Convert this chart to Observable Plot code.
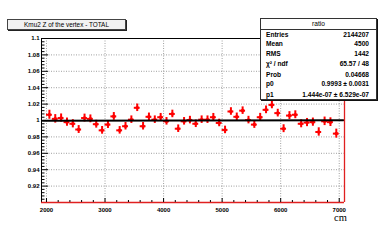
<!DOCTYPE html>
<html>
<head>
<meta charset="utf-8">
<script src="https://cdn.jsdelivr.net/npm/d3@7"></script>
<script src="https://cdn.jsdelivr.net/npm/@observablehq/plot@0.6"></script>
<style>
  body { margin: 0; background: #ffffff; }
  #wrap { position: relative; width: 382px; height: 248px; overflow: hidden; font-family: "Liberation Sans", Arial, sans-serif; }
  #wrap svg { position: absolute; left: 0; top: 0; }
  .title { position: absolute; left: 7px; top: 19px; width: 117px; height: 9px; background: #f2f2f2; border: 1px solid #444; box-shadow: 1px 1px 0 #222; font-size: 6.4px; line-height: 9px; text-align: center; color: #000; }
  .stats { position: absolute; left: 260px; top: 18px; width: 115px; height: 80px; background: #fff; border: 1px solid #333; box-shadow: 1px 1px 0 #111; color: #000; font-size: 6.6px; font-weight: bold; }
  .stats .hdr { position: absolute; left: 0; top: 0; width: 100%; height: 10px; line-height: 10px; text-align: center; font-weight: normal; border-bottom: 1px solid #333; }
  .stats .row { position: absolute; left: 5px; right: 7px; height: 8px; line-height: 8px; }
  .stats .row .l { position: absolute; left: 0; }
  .stats .row .v { position: absolute; right: 0; }
  .cm { position: absolute; left: 334px; top: 213px; font-family: "Liberation Serif", "DejaVu Serif", serif; font-size: 10.5px; line-height: 10.5px; color: #000; }
</style>
</head>
<body>
<div id="wrap"></div>
<script>
// ---- data ----
const binCenters = [2050,2150,2250,2350,2450,2550,2650,2750,2850,2950,
                    3050,3150,3250,3350,3450,3550,3650,3750,3850,3950,
                    4050,4150,4250,4350,4450,4550,4650,4750,4850,4950,
                    5050,5150,5250,5350,5450,5550,5650,5750,5850,5950,
                    6050,6150,6250,6350,6450,6550,6650,6750,6850,6950];
const ratioValues = [1.007,1.002,1.003,0.998,0.996,0.989,1.003,1.002,0.9955,0.988,
                     0.995,1.005,0.988,0.993,1.001,1.0155,0.993,1.0045,1.001,1.004,
                     0.999,1.008,0.990,0.999,1.0005,0.996,1.001,1.001,1.004,0.997,
                     0.9885,1.011,1.0045,1.012,1.0005,0.995,1.004,1.013,1.019,1.009,
                     0.990,1.006,1.007,0.996,0.9975,0.998,0.986,0.999,0.998,0.984];
const ratioErrors = [0.0055,0.0052,0.0050,0.0050,0.0050,0.0048,0.0048,0.0048,0.0048,0.0047,
                     0.0047,0.0047,0.0046,0.0046,0.0046,0.0046,0.0046,0.0046,0.0046,0.0046,
                     0.0046,0.0046,0.0046,0.0046,0.0046,0.0046,0.0046,0.0046,0.0046,0.0046,
                     0.0046,0.0046,0.0046,0.0046,0.0046,0.0046,0.0047,0.0047,0.0047,0.0047,
                     0.0048,0.0048,0.0048,0.0049,0.0050,0.0050,0.0051,0.0052,0.0053,0.0055];
const binHalfWidth = 50;
const fitX = [1935, 7070];
const fitY = [0.9996, 1.0003];
const xDomain = [1915, 7090];
const yDomain = [0.9, 1.1];
const xMajorTicks = [2000,3000,4000,5000,6000,7000];
const xGridTicks = [2000,3000,4000,5000,6000,7000];
const xMinorTicks = [2200,2400,2600,2800,3200,3400,3600,3800,4200,4400,4600,4800,5200,5400,5600,5800,6200,6400,6600,6800];
const yMajorTicks = [0.92,0.94,0.96,0.98,1.0,1.02,1.04,1.06,1.08,1.1];
const yGridTicks = [0.92,0.94,0.96,0.98,1.02,1.04,1.06,1.08];
const yMinorTicks = [0.904,0.908,0.912,0.916,0.924,0.928,0.932,0.936,0.944,0.948,0.952,0.956,
                     0.964,0.968,0.972,0.976,0.984,0.988,0.992,0.996,1.004,1.008,1.012,1.016,
                     1.024,1.028,1.032,1.036,1.044,1.048,1.052,1.056,1.064,1.068,1.072,1.076,
                     1.084,1.088,1.092,1.096];
const statsLabels = ["Entries","Mean","RMS","\u03C7\u00B2 / ndf","Prob","p0","p1"];
const statsValues = ["2144207","4500","1442","65.57 / 48","0.04668","0.9993 \u00B1 0.0031","1.444e-07 \u00B1 6.529e-07"];
const titleText = "Kmu2 Z of the vertex - TOTAL";
const statsTitle = "ratio";
const xUnit = "cm";

const points = binCenters.map((x, i) => ({x, y: ratioValues[i], e: ratioErrors[i]}));
const fit = fitX.map((x, i) => ({x, y: fitY[i]}));
const red = "#ff0000";

const chart = Plot.plot({
  width: 382,
  height: 248,
  marginLeft: 41,
  marginRight: 38,
  marginTop: 38,
  marginBottom: 46,
  style: {fontFamily: "'Liberation Sans', Arial, sans-serif", fontSize: "6px", background: "transparent", color: "#000"},
  x: {domain: xDomain, label: null},
  y: {domain: yDomain, label: null},
  marks: [
    Plot.gridX(xGridTicks, {stroke: "#777", strokeOpacity: 1, strokeDasharray: "1,1.5", strokeWidth: 0.7}),
    Plot.gridY(yGridTicks, {stroke: "#777", strokeOpacity: 1, strokeDasharray: "1,1.5", strokeWidth: 0.7}),
    Plot.ruleX(points, {x: "x", y1: d => d.y - d.e, y2: d => d.y + d.e, stroke: red, strokeWidth: 2}),
    Plot.ruleY(points, {y: "y", x1: d => d.x - binHalfWidth, x2: d => d.x + binHalfWidth, stroke: red, strokeWidth: 2}),
    Plot.dot(points, {x: "x", y: "y", r: 1.8, fill: red, stroke: null}),
    Plot.line(fit, {x: "x", y: "y", stroke: "#000", strokeWidth: 2}),
    Plot.ruleX([xDomain[0]], {stroke: "#000", strokeWidth: 1}),
    Plot.ruleY([yDomain[1]], {stroke: "#000", strokeWidth: 1}),
    Plot.ruleX([xDomain[1]], {stroke: "#e02020", strokeWidth: 1.3}),
    Plot.ruleY([yDomain[0]], {stroke: "#e02020", strokeWidth: 1.3}),
    Plot.axisY(yMajorTicks, {anchor: "left", tickSize: -7, text: null, label: null, stroke: "#000"}),
    Plot.axisY(yMinorTicks, {anchor: "left", tickSize: -3.5, text: null, label: null, stroke: "#000"}),
    Plot.axisY(yMajorTicks, {anchor: "left", tickSize: 0, tickPadding: 2, tickFormat: d => String(+d.toFixed(2)), label: null, fontWeight: "bold"}),
    Plot.axisX(xMajorTicks, {anchor: "bottom", tickSize: -4, text: null, label: null, stroke: "#000"}),
    Plot.axisX(xMinorTicks, {anchor: "bottom", tickSize: -2, text: null, label: null, stroke: "#000"}),
    Plot.axisX(xMajorTicks, {anchor: "bottom", tickSize: 0, tickPadding: 5, tickFormat: d => String(d), label: null, fontWeight: "bold"})
  ]
});

const wrap = document.getElementById("wrap");
wrap.appendChild(chart);

const t = document.createElement("div");
t.className = "title";
t.textContent = titleText;
wrap.appendChild(t);

const s = document.createElement("div");
s.className = "stats";
const h = document.createElement("div");
h.className = "hdr";
h.textContent = statsTitle;
s.appendChild(h);
const rowTops = [11.5, 21, 31, 41, 52, 60.5, 72];
statsLabels.forEach((lab, i) => {
  const r = document.createElement("div");
  r.className = "row";
  r.style.top = rowTops[i] + "px";
  const l = document.createElement("span");
  l.className = "l";
  l.textContent = lab;
  const v = document.createElement("span");
  v.className = "v";
  v.textContent = statsValues[i];
  r.appendChild(l);
  r.appendChild(v);
  s.appendChild(r);
});
wrap.appendChild(s);

const u = document.createElement("div");
u.className = "cm";
u.textContent = xUnit;
wrap.appendChild(u);
</script>
</body>
</html>
